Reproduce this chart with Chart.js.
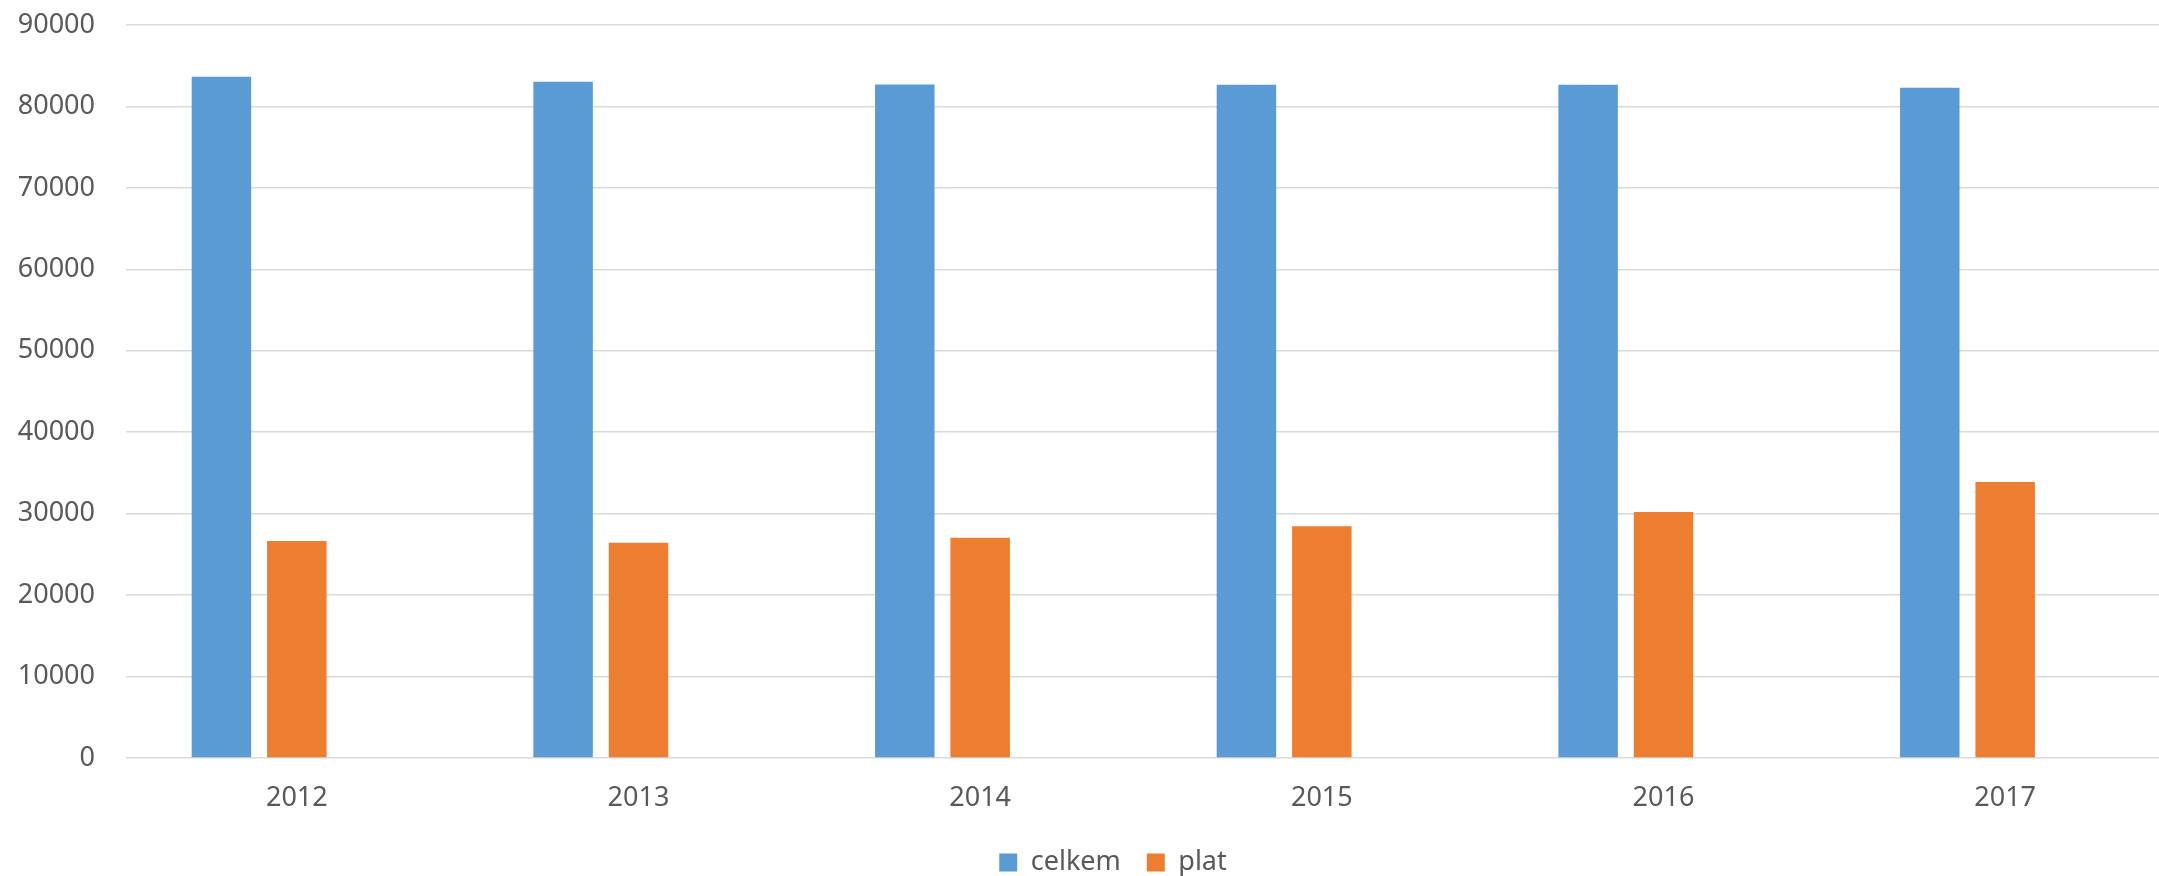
<!DOCTYPE html>
<html>
<head>
<meta charset="utf-8">
<script src="https://cdn.jsdelivr.net/npm/chart.js@4/dist/chart.umd.min.js"></script>
<style>
  html, body { margin: 0; padding: 0; overflow: hidden; background: #ffffff; }
  #wrap { position: absolute; left: 0; top: 0; width: 2220px; height: 886px; }
</style>
</head>
<body>
<div id="wrap"><canvas id="c"></canvas></div>
<script>
const categories = ['2012', '2013', '2014', '2015', '2016', '2017'];
const celkem = [83640, 83030, 82700, 82660, 82660, 82290];
const plat = [26650, 26440, 27050, 28450, 30210, 33890];
const empty = [null, null, null, null, null, null];

const textColor = '#595959';
const gridColor = '#D9D9D9';
const fontFamily = '"Noto Sans", "DejaVu Sans", sans-serif';

const legendShift = {
  id: 'legendShift',
  afterLayout(chart) {
    if (chart.legend) { chart.legend.left += 16; chart.legend.right += 16; }
  }
};

new Chart(document.getElementById('c'), {
  type: 'bar',
  data: {
    labels: categories,
    datasets: [
      { label: 'celkem', data: celkem, backgroundColor: '#5B9BD5', borderWidth: 0,
        categoryPercentage: 0.662, barPercentage: 0.789 },
      { label: 'plat', data: plat, backgroundColor: '#ED7D31', borderWidth: 0,
        categoryPercentage: 0.662, barPercentage: 0.789 },
      { label: '', data: empty, backgroundColor: '#A5A5A5', borderWidth: 0,
        categoryPercentage: 0.662, barPercentage: 0.789 }
    ]
  },
  plugins: [legendShift],
  options: {
    responsive: true,
    maintainAspectRatio: false,
    animation: false,
    layout: { padding: { left: 18, right: 44, top: 25, bottom: 0 } },
    scales: {
      x: {
        grid: { display: false, drawTicks: false },
        border: { display: false },
        ticks: { color: textColor, font: { family: fontFamily, size: 27 }, padding: 24, maxRotation: 0 },
        afterFit: (s) => { s.height = 65; s.paddingLeft = 0; s.paddingRight = 0; }
      },
      y: {
        min: 0, max: 90000,
        grid: { color: gridColor, lineWidth: 1.6, drawTicks: false },
        border: { display: false },
        ticks: { stepSize: 10000, color: textColor, font: { family: fontFamily, size: 27 }, padding: 31,
                 callback: (v) => String(v) },
        afterFit: (s) => { s.width = 108; s.paddingTop = 0; s.paddingBottom = 0; }
      }
    },
    plugins: {
      legend: {
        position: 'bottom',
        labels: {
          color: textColor,
          font: { family: fontFamily, size: 27 },
          boxWidth: 18, boxHeight: 18,
          padding: 26,
          filter: (item) => item.text !== ''
        }
      },
      tooltip: { enabled: false }
    }
  }
});
</script>
</body>
</html>
